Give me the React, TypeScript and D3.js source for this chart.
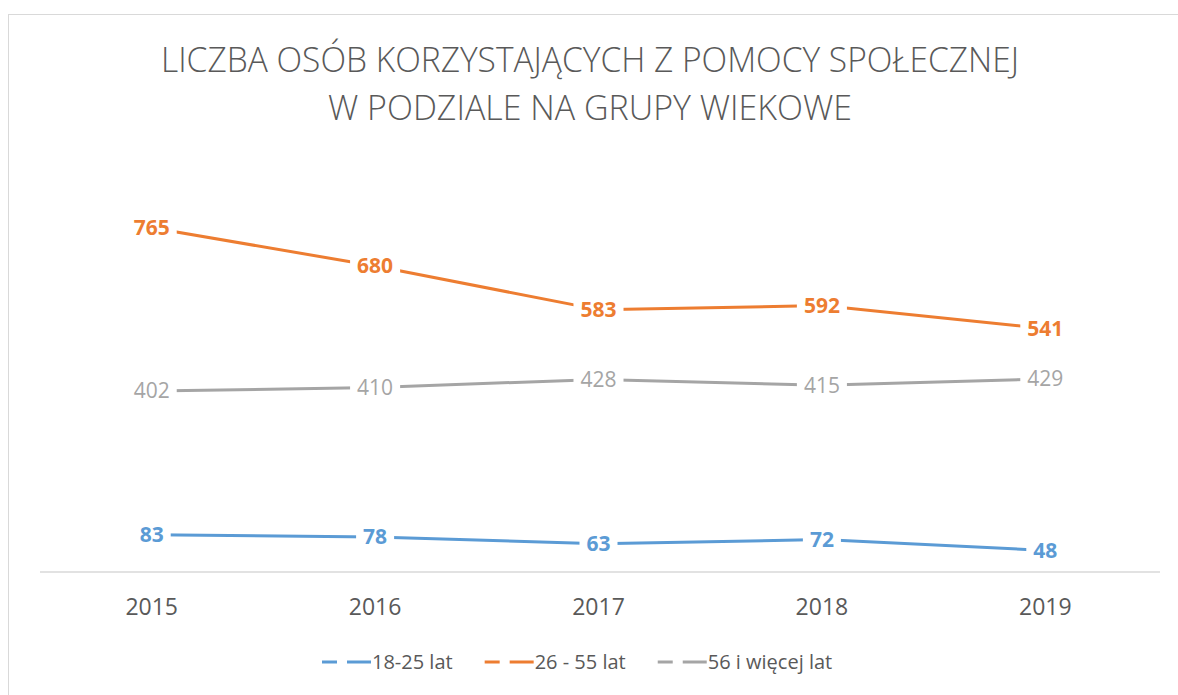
import { useRef, useEffect } from 'react';
import * as d3 from 'd3';

const years = ['2015', '2016', '2017', '2018', '2019'];
const young = [83, 78, 63, 72, 48];
const middle = [765, 680, 583, 592, 541];
const older = [402, 410, 428, 415, 429];
const seriesNames = ['18-25 lat', '26 - 55 lat', '56 i więcej lat'];
const titleLines = ['LICZBA OSÓB KORZYSTAJĄCYCH Z POMOCY SPOŁECZNEJ', 'W PODZIALE NA GRUPY WIEKOWE'];

const W = 1178;
const H = 695;
const FONT = "'Open Sans', sans-serif";

const App = () => {
  const ref = useRef<SVGSVGElement>(null);

  useEffect(() => {
    const svg = d3.select(ref.current);
    svg.selectAll('*').remove();

    const series = [
      { name: seriesNames[0], values: young, color: '#5B9BD5', bold: true },
      { name: seriesNames[1], values: middle, color: '#ED7D31', bold: true },
      { name: seriesNames[2], values: older, color: '#A5A5A5', bold: false },
    ];

    // chart frame
    svg.append('rect')
      .attr('x', 8.5).attr('y', 14.5)
      .attr('width', W + 20).attr('height', H + 20)
      .attr('fill', '#fff')
      .attr('stroke', '#d9d9d9');

    // title, squeezed a little to get the narrow look of the original
    const title = svg.append('text')
      .attr('text-anchor', 'middle')
      .attr('font-family', FONT)
      .attr('font-weight', 300)
      .attr('font-size', 35)
      .attr('fill', '#595959');
    const widths = [858, 524];
    titleLines.forEach((t, i) => {
      title.append('tspan')
        .attr('x', 590).attr('y', 72 + i * 48)
        .attr('textLength', widths[i])
        .attr('lengthAdjust', 'spacingAndGlyphs')
        .text(t);
    });

    const x = d3.scalePoint<string>()
      .domain(years)
      .range([40, 1157])
      .padding(0.5);

    const y = d3.scaleLinear()
      .domain([0, 900])
      .range([572, 167]);

    // category axis
    svg.append('line')
      .attr('x1', 40).attr('x2', 1160)
      .attr('y1', y(0)).attr('y2', y(0))
      .attr('stroke', '#d9d9d9')
      .attr('stroke-width', 1.5);

    svg.selectAll('.year')
      .data(years)
      .enter().append('text')
      .attr('class', 'year')
      .attr('x', d => x(d)!)
      .attr('y', 615)
      .attr('text-anchor', 'middle')
      .attr('font-family', FONT)
      .attr('font-size', 23)
      .attr('fill', '#595959')
      .text(d => d);

    const line = d3.line<number>()
      .x((_, i) => x(years[i])!)
      .y(d => y(d));

    series.forEach(s => {
      svg.append('path')
        .datum(s.values)
        .attr('d', line)
        .attr('fill', 'none')
        .attr('stroke', s.color)
        .attr('stroke-width', 3)
        .attr('stroke-linejoin', 'round');
    });

    // data labels with white box that breaks the line
    series.forEach(s => {
      const g = svg.append('g');
      s.values.forEach((v, i) => {
        const t = g.append('text')
          .attr('x', x(years[i])!)
          .attr('y', y(v))
          .attr('dy', '0.35em')
          .attr('text-anchor', 'middle')
          .attr('font-family', FONT)
          .attr('font-size', 21)
          .attr('font-weight', s.bold ? 700 : 400)
          .attr('fill', s.color)
          .text(v);
        const bb = (t.node() as SVGTextElement).getBBox();
        g.insert('rect', 'text')
          .attr('x', bb.x - 7)
          .attr('y', bb.y)
          .attr('width', bb.width + 14)
          .attr('height', bb.height)
          .attr('fill', '#fff');
      });
    });

    // legend
    const legend = svg.append('g');
    let lx = 322;
    series.forEach(s => {
      legend.append('line')
        .attr('x1', lx).attr('x2', lx + 49)
        .attr('y1', 662).attr('y2', 662)
        .attr('stroke', s.color)
        .attr('stroke-width', 3)
        .attr('stroke-dasharray', '15 10 24');
      const t = legend.append('text')
        .attr('x', lx + 50)
        .attr('y', 662)
        .attr('dy', '0.35em')
        .attr('font-family', FONT)
        .attr('font-size', 20)
        .attr('fill', '#595959')
        .text(s.name);
      lx += 50 + (t.node() as SVGTextElement).getComputedTextLength() + 32;
    });
  }, []);

  return (
    <svg
      ref={ref}
      width={W}
      height={H}
      style={{ position: 'absolute', left: 0, top: 0, background: '#fff' }}
    />
  );
};

export default App;
